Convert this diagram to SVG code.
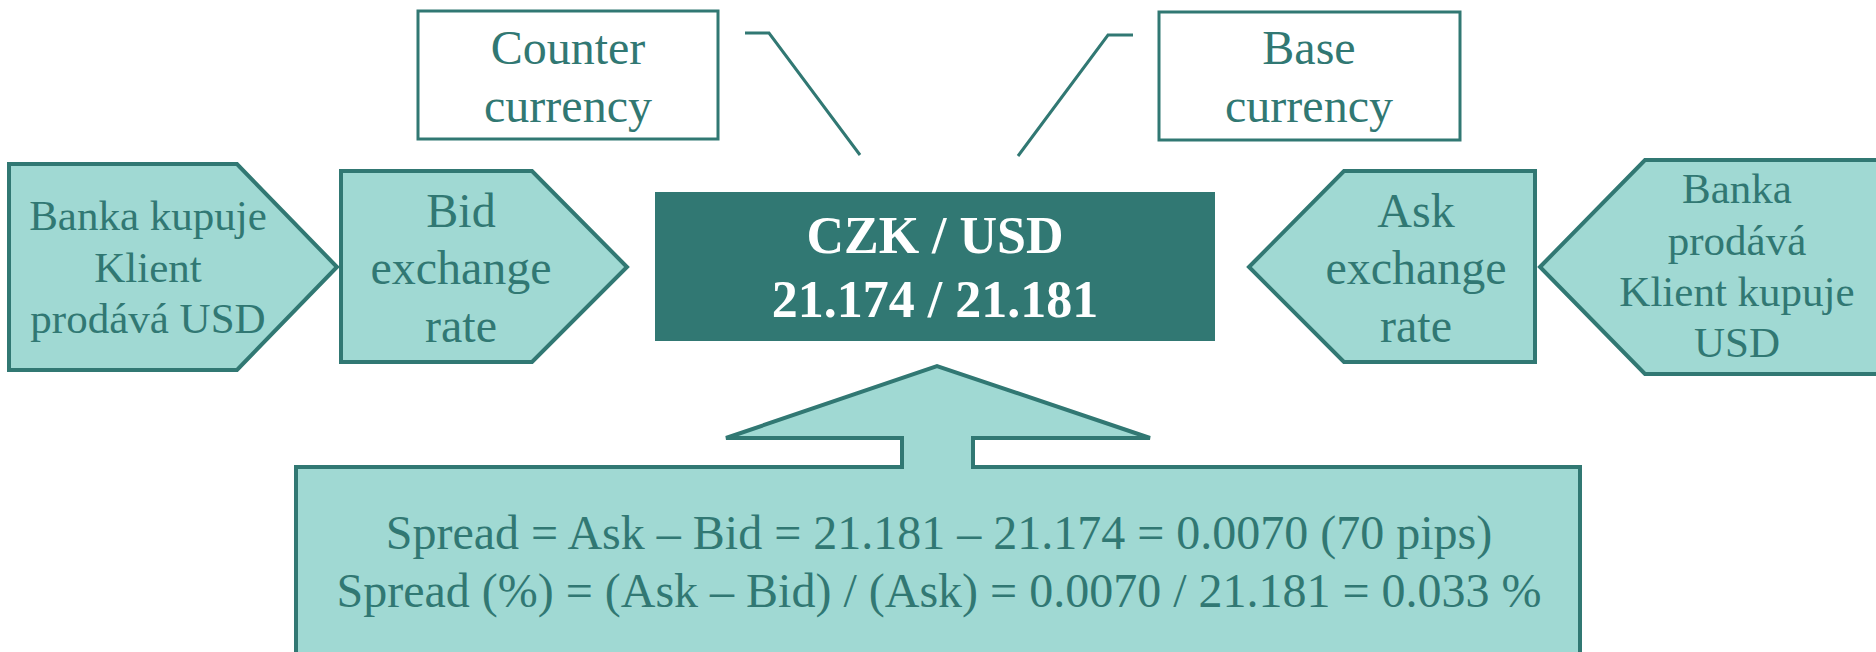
<svg xmlns="http://www.w3.org/2000/svg" width="1876" height="652" viewBox="0 0 1876 652">
<style>
.shape{fill:#A0D9D3;stroke:#317873;stroke-width:4;stroke-linejoin:miter}
.label{fill:#317873;stroke:#317873;stroke-width:3}
.t{font-family:"Liberation Serif","Times New Roman",serif;fill:#317873;text-anchor:middle}
.t48{font-size:48px}
.t43{font-size:43px}
.tb{font-family:"Liberation Serif","Times New Roman",serif;font-weight:bold;font-size:52px;fill:#FFFFFF;text-anchor:middle}
.conn{fill:none;stroke:#317873;stroke-width:3}
</style>
<rect width="1876" height="652" fill="#FFFFFF"/>
<g id="connectors">
<polyline class="conn" points="745,33 769,33 860,155"/>
<polyline class="conn" points="1133,35 1108,35 1018,156"/>
</g>
<g id="counter-currency">
<rect x="418" y="11" width="300" height="128" fill="#FFFFFF" stroke="#317873" stroke-width="3"/>
<text class="t t48" x="568" y="64">Counter</text>
<text class="t t48" x="568" y="122">currency</text>
</g>
<g id="base-currency">
<rect x="1159" y="12" width="301" height="128" fill="#FFFFFF" stroke="#317873" stroke-width="3"/>
<text class="t t48" x="1309" y="64">Base</text>
<text class="t t48" x="1309" y="122">currency</text>
</g>
<g id="banka-kupuje">
<polygon class="shape" points="9,164 237,164 337,267 237,370 9,370"/>
<text class="t t43" x="148" y="230">Banka kupuje</text>
<text class="t t43" x="148" y="282">Klient</text>
<text class="t t43" x="148" y="333">prodává USD</text>
</g>
<g id="bid-rate">
<polygon class="shape" points="341,171 532,171 627,267 532,362 341,362"/>
<text class="t t48" x="461" y="227">Bid</text>
<text class="t t48" x="461" y="284">exchange</text>
<text class="t t48" x="461" y="342">rate</text>
</g>
<g id="quote">
<rect x="655" y="192" width="560" height="149" fill="#317873"/>
<text class="tb" x="935" y="253">CZK / USD</text>
<text class="tb" x="935" y="317">21.174 / 21.181</text>
</g>
<g id="ask-rate">
<polygon class="shape" points="1249,267 1344,171 1535,171 1535,362 1344,362"/>
<text class="t t48" x="1416" y="227">Ask</text>
<text class="t t48" x="1416" y="284">exchange</text>
<text class="t t48" x="1416" y="342">rate</text>
</g>
<g id="banka-prodava">
<polygon class="shape" points="1540,267 1645,160 1884,160 1884,374 1645,374"/>
<text class="t t43" x="1737" y="203">Banka</text>
<text class="t t43" x="1737" y="255">prodává</text>
<text class="t t43" x="1737" y="306">Klient kupuje</text>
<text class="t t43" x="1737" y="357">USD</text>
</g>
<g id="spread">
<polygon class="shape" points="296,467 902,467 902,438 726,438 937,366 1150,438 973,438 973,467 1580,467 1580,670 296,670"/>
<text class="t t48" x="939" y="549">Spread = Ask – Bid = 21.181 – 21.174 = 0.0070 (70 pips)</text>
<text class="t t48" x="939" y="607">Spread (%) = (Ask – Bid) / (Ask) = 0.0070 / 21.181 = 0.033 %</text>
</g>
</svg>
